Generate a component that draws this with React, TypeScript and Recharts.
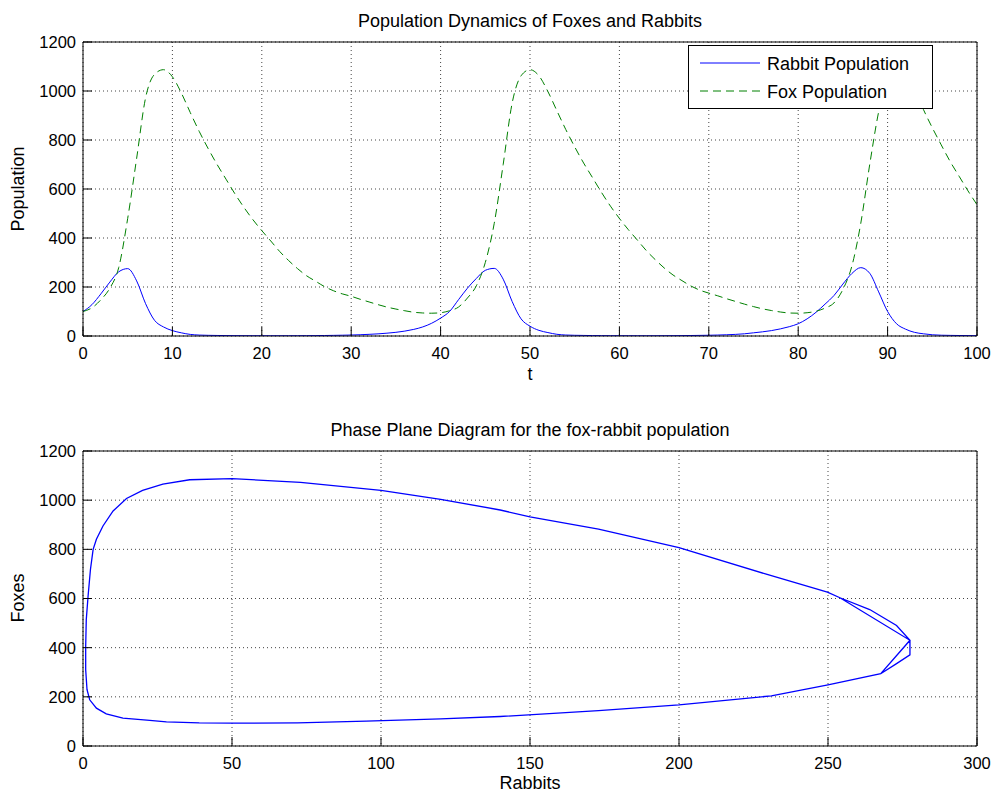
import React from "react"
import { LineChart, Line, XAxis, YAxis, CartesianGrid } from "recharts"

// time series (t = 0 .. 100)
const timeSteps = [
  0, 1, 2, 3, 4, 5, 6, 7, 8, 9, 10, 11, 12, 13, 14, 15, 16, 17, 18, 19, 20,
  21, 22, 23, 24, 25, 26, 27, 28, 29, 30, 31, 32, 33, 34, 35, 36, 37, 38, 39, 40,
  41, 42, 43, 44, 45, 46, 47, 48, 49, 50, 51, 52, 53, 54, 55, 56, 57, 58, 59, 60,
  61, 62, 63, 64, 65, 66, 67, 68, 69, 70, 71, 72, 73, 74, 75, 76, 77, 78, 79, 80,
  81, 82, 83, 84, 85, 86, 87, 88, 89, 90, 91, 92, 93, 94, 95, 96, 97, 98, 99, 100
]

const rabbitValues = [
  100, 128, 172, 220, 262, 275, 225, 132, 64, 37, 22, 13, 6.5, 3.8, 2.8, 2.2, 1.7, 1.4, 1.2, 1.05, 0.95,
  0.9, 0.9, 1.0, 1.1, 1.3, 1.6, 2.0, 2.6, 3.2, 4.0, 5.2, 6.8, 8.8, 11.5, 15, 20, 27, 37, 52, 73,
  100, 148, 195, 235, 268, 276, 232, 141, 70, 40, 23, 14, 7, 4, 2.9, 2.3, 1.75, 1.45, 1.2, 1.07,
  0.96, 0.9, 0.9, 1.0, 1.1, 1.3, 1.55, 2.0, 2.5, 3.1, 3.9, 5.1, 6.6, 9, 13, 17, 22, 29, 38, 50,
  70, 97, 130, 165, 212, 255, 279, 256, 180, 100, 50, 28, 15, 9, 5, 3.2, 2.5, 2.0, 1.6, 1.3
]

const foxValues = [
  100, 115, 148, 195, 280, 480, 725, 972, 1068, 1087, 1058, 992, 912, 835, 765, 700, 640, 580, 525, 475, 430,
  388, 345, 308, 275, 246, 224, 202, 185, 172, 162, 150, 139, 128, 118, 110, 103, 97, 94, 93, 95,
  103, 118, 155, 205, 300, 460, 700, 950, 1062, 1087, 1062, 998, 920, 843, 772, 706, 646, 586, 530, 480,
  434, 392, 349, 312, 278, 249, 226, 204, 187, 175, 164, 152, 141, 130, 120, 111, 104, 98, 94, 93,
  95, 101, 114, 135, 190, 285, 460, 700, 915, 1055, 1087, 1065, 1010, 925, 850, 780, 712, 652, 592, 536
]

// phase plane (rabbits, foxes)
const lowerArcRabbits = [1.35, 2.25, 4.5, 7.8, 13.4, 22.4, 28, 39, 50, 72, 95, 120, 140, 173, 200, 231, 250, 267.7]
const lowerArcFoxes = [229, 188, 154, 131, 113, 104, 98, 94, 93, 94, 101, 110, 120, 144, 167, 204, 249, 294]

const innerTipRabbits = [277.5]
const innerTipFoxes = [430]
const outerTipRabbits = [273, 277.5, 277.5, 273, 264]
const outerTipFoxes = [335, 371, 430, 490, 555]

const upperArcRabbits = [254, 249.8, 229, 200, 173, 150, 140, 120, 100, 73, 50, 35.8, 26.8, 20, 14.6, 10.1, 6.7, 4.5, 3.4, 2.5, 1.7, 1.1, 0.9, 0.9]
const upperArcFoxes = [603, 626, 700, 807, 882, 932, 960, 1003, 1040, 1072, 1088, 1083, 1065, 1040, 1007, 956, 895, 841, 800, 718, 609, 514, 405, 310]

const timeTicks = [0, 10, 20, 30, 40, 50, 60, 70, 80, 90, 100]
const populationTicks = [0, 200, 400, 600, 800, 1000, 1200]
const rabbitTicks = [0, 50, 100, 150, 200, 250, 300]

const timeData = timeSteps.map((t, i) => ({ t, rabbits: rabbitValues[i], foxes: foxValues[i] }))

const lap = (tipR: number[], tipF: number[]) => {
  const r = [...lowerArcRabbits, ...tipR, ...upperArcRabbits]
  const f = [...lowerArcFoxes, ...tipF, ...upperArcFoxes]
  return r.map((rabbits, i) => ({ rabbits, foxes: f[i] }))
}

const phaseData = [
  ...lap(innerTipRabbits, innerTipFoxes),
  ...lap(outerTipRabbits, outerTipFoxes),
  ...lap(innerTipRabbits, innerTipFoxes)
]

const FONT = '"Liberation Sans", Arial, Helvetica, sans-serif'
const tickStyle = { fill: "#000", fontSize: 16.5, fontFamily: FONT }
const frame = { stroke: "#000", strokeWidth: 1 }

const App: React.FC = () => {
  return (
    <div
      style={{
        position: "absolute",
        left: 0,
        top: 0,
        width: 995,
        height: 796,
        background: "#fff",
        fontFamily: FONT
      }}
    >
      <div style={{ position: "absolute", left: 0, top: 0 }}>
        <LineChart width={995} height={400} data={timeData} margin={{ top: 41, right: 17, bottom: 34, left: 0 }}>
          <CartesianGrid stroke="#444" strokeDasharray="1 3" />
          {/* negative tick sizes give MATLAB style inward ticks */}
          <XAxis
            dataKey="t"
            type="number"
            domain={[0, 100]}
            ticks={timeTicks}
            interval={0}
            allowDataOverflow
            height={30}
            tickSize={-9}
            tickMargin={20}
            tickLine={frame}
            axisLine={frame}
            tick={tickStyle}
          />
          <YAxis
            type="number"
            domain={[0, 1200]}
            ticks={populationTicks}
            interval={0}
            allowDataOverflow
            width={83}
            tickSize={-9}
            tickMargin={16}
            tickLine={frame}
            axisLine={frame}
            tick={tickStyle}
          />
          <XAxis xAxisId="top" dataKey="t" orientation="top" type="number" domain={[0, 100]} ticks={timeTicks} interval={0} allowDataOverflow height={1} tick={false} tickSize={-9} tickLine={frame} axisLine={frame} />
          <YAxis yAxisId="right" orientation="right" type="number" domain={[0, 1200]} ticks={populationTicks} interval={0} allowDataOverflow width={1} tick={false} tickSize={-9} tickLine={frame} axisLine={frame} />
          <Line xAxisId="top" yAxisId="right" dataKey="foxes" stroke="none" dot={false} activeDot={false} legendType="none" isAnimationActive={false} />
          <Line type="monotone" dataKey="rabbits" stroke="#0000ff" strokeWidth={1} dot={false} isAnimationActive={false} />
          <Line type="monotone" dataKey="foxes" stroke="#008000" strokeWidth={1} strokeDasharray="8 5" dot={false} isAnimationActive={false} />
        </LineChart>
      </div>

      <div style={{ position: "absolute", left: 0, top: 400 }}>
        <LineChart width={995} height={396} data={phaseData} margin={{ top: 50, right: 17, bottom: 20, left: 0 }}>
          <CartesianGrid stroke="#444" strokeDasharray="1 3" />
          <XAxis
            dataKey="rabbits"
            type="number"
            domain={[0, 300]}
            ticks={rabbitTicks}
            interval={0}
            allowDataOverflow
            height={30}
            tickSize={-9}
            tickMargin={20}
            tickLine={frame}
            axisLine={frame}
            tick={tickStyle}
          />
          <YAxis
            type="number"
            domain={[0, 1200]}
            ticks={populationTicks}
            interval={0}
            allowDataOverflow
            width={83}
            tickSize={-9}
            tickMargin={16}
            tickLine={frame}
            axisLine={frame}
            tick={tickStyle}
          />
          <XAxis xAxisId="top" dataKey="rabbits" orientation="top" type="number" domain={[0, 300]} ticks={rabbitTicks} interval={0} allowDataOverflow height={1} tick={false} tickSize={-9} tickLine={frame} axisLine={frame} />
          <YAxis yAxisId="right" orientation="right" type="number" domain={[0, 1200]} ticks={populationTicks} interval={0} allowDataOverflow width={1} tick={false} tickSize={-9} tickLine={frame} axisLine={frame} />
          <Line xAxisId="top" yAxisId="right" dataKey="foxes" stroke="none" dot={false} activeDot={false} legendType="none" isAnimationActive={false} />
          <Line type="linear" dataKey="foxes" stroke="#0000ff" strokeWidth={1.3} dot={false} isAnimationActive={false} />
        </LineChart>
      </div>

      {/* titles, axis labels and legend */}
      <svg
        width={995}
        height={796}
        style={{ position: "absolute", left: 0, top: 0, pointerEvents: "none" }}
        fontFamily={FONT}
      >
        <text x={530} y={27} fontSize={18} textAnchor="middle" fill="#000">
          Population Dynamics of Foxes and Rabbits
        </text>
        <text x={530} y={380} fontSize={18} textAnchor="middle" fill="#000">
          t
        </text>
        <text x={24} y={189} fontSize={18} textAnchor="middle" fill="#000" transform="rotate(-90 24 189)">
          Population
        </text>

        <text x={530} y={436} fontSize={18} textAnchor="middle" fill="#000">
          Phase Plane Diagram for the fox-rabbit population
        </text>
        <text x={530} y={789} fontSize={18} textAnchor="middle" fill="#000">
          Rabbits
        </text>
        <text x={24} y={598} fontSize={18} textAnchor="middle" fill="#000" transform="rotate(-90 24 598)">
          Foxes
        </text>

        <rect x={688.5} y={45.5} width={244} height={63} fill="#fff" stroke="#000" strokeWidth={1} />
        <line x1={700} y1={63} x2={760} y2={63} stroke="#0000ff" strokeWidth={1} />
        <line x1={700} y1={91} x2={760} y2={91} stroke="#008000" strokeWidth={1} strokeDasharray="8 5" />
        <text x={767} y={69.5} fontSize={18} fill="#000">
          Rabbit Population
        </text>
        <text x={767} y={97.5} fontSize={18} fill="#000">
          Fox Population
        </text>
      </svg>
    </div>
  )
}

export default App
